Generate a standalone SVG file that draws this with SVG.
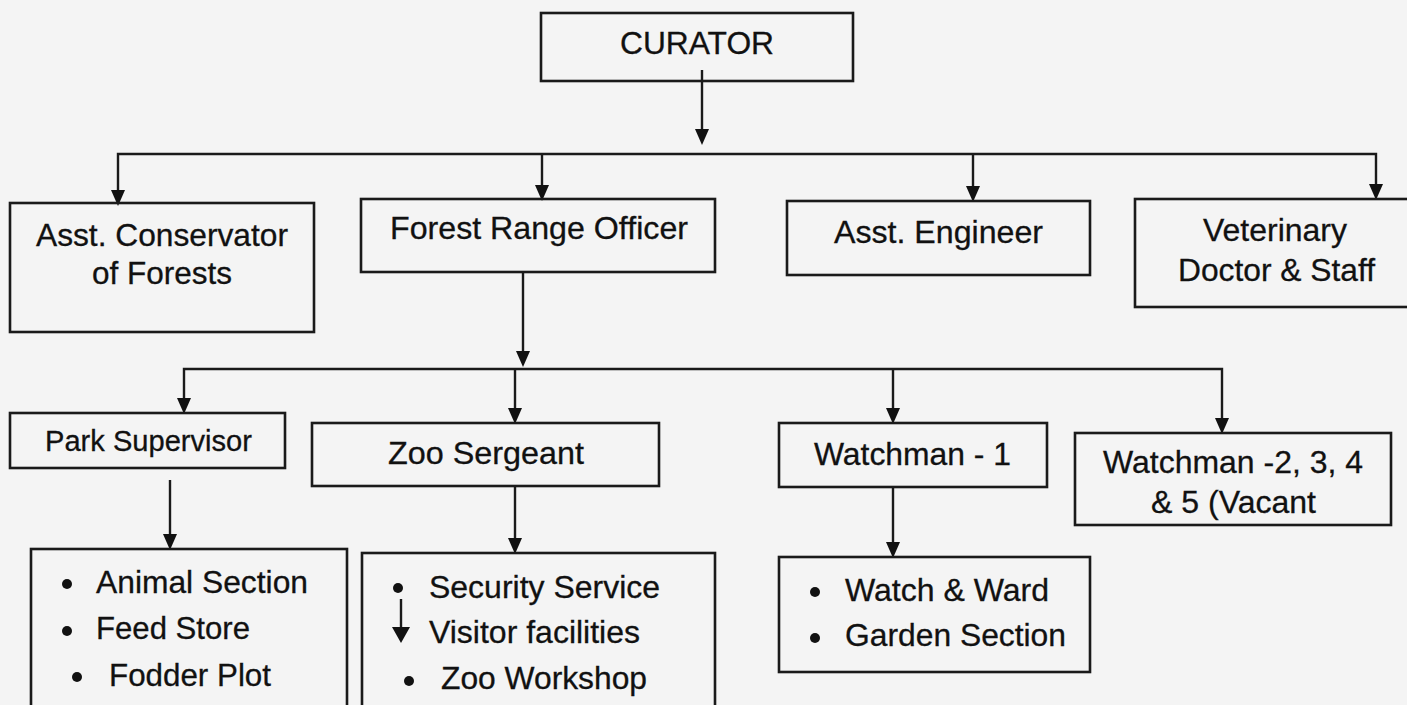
<svg xmlns="http://www.w3.org/2000/svg" width="1407" height="705" viewBox="0 0 1407 705">
<style>
.box{fill:none;stroke:#1a1a1a;stroke-width:2.6}
.ln{fill:none;stroke:#1a1a1a;stroke-width:2.4}
.ah{fill:#111}
text{font-family:"Liberation Sans",Arial,sans-serif;font-size:32px;fill:#111;stroke:#111;stroke-width:0.3}
.sm{font-size:29px}
.dot{fill:#111}
</style>
<rect x="0" y="0" width="1407" height="705" fill="#f4f4f4"/>
<g id="connectors">
<path class="ln" d="M702,70V130"/><polygon class="ah" points="702,145 695,129 709,129"/>
<path class="ln" d="M118,190V154H1376V184"/>
<path class="ln" d="M542,154V185"/><path class="ln" d="M973,154V186"/>
<polygon class="ah" points="118,206 111,190 125,190"/>
<polygon class="ah" points="542,201 535,185 549,185"/>
<polygon class="ah" points="973,202 966,186 980,186"/>
<polygon class="ah" points="1376,200 1369,184 1383,184"/>
<path class="ln" d="M523,272V351"/><polygon class="ah" points="523,367 516,351 530,351"/>
<path class="ln" d="M184,398V369H1222V418"/>
<path class="ln" d="M515,369V408"/><path class="ln" d="M893,369V408"/>
<polygon class="ah" points="184,414 177,398 191,398"/>
<polygon class="ah" points="515,424 508,408 522,408"/>
<polygon class="ah" points="893,424 886,408 900,408"/>
<polygon class="ah" points="1222,434 1215,418 1229,418"/>
<path class="ln" d="M170,480V534"/><polygon class="ah" points="170,550 163,534 177,534"/>
<path class="ln" d="M515,486V538"/><polygon class="ah" points="515,554 508,538 522,538"/>
<path class="ln" d="M893,487V542"/><polygon class="ah" points="893,558 886,542 900,542"/>
<path class="ln" d="M401,599V628"/><polygon class="ah" points="401,643 392,627 410,627"/>
</g>
<g id="curator"><rect class="box" x="541" y="13" width="312" height="68"/><text x="620" y="54" textLength="154" lengthAdjust="spacingAndGlyphs">CURATOR</text></g>
<g id="asst-conservator"><rect class="box" x="10" y="203" width="304" height="129"/><text x="36" y="246" textLength="252" lengthAdjust="spacingAndGlyphs">Asst. Conservator</text><text x="92" y="284" textLength="140" lengthAdjust="spacingAndGlyphs">of Forests</text></g>
<g id="forest-range-officer"><rect class="box" x="361" y="199" width="354" height="73"/><text x="390" y="239" textLength="298" lengthAdjust="spacingAndGlyphs">Forest Range Officer</text></g>
<g id="asst-engineer"><rect class="box" x="787" y="201" width="303" height="74"/><text x="834" y="243" textLength="209" lengthAdjust="spacingAndGlyphs">Asst. Engineer</text></g>
<g id="veterinary"><rect class="box" x="1135" y="199" width="275" height="108"/><text x="1203" y="241" textLength="144" lengthAdjust="spacingAndGlyphs">Veterinary</text><text x="1178" y="281" textLength="197" lengthAdjust="spacingAndGlyphs">Doctor &amp; Staff</text></g>
<g id="park-supervisor"><rect class="box" x="10" y="413" width="275" height="55"/><text class="sm" x="45" y="451" textLength="207" lengthAdjust="spacingAndGlyphs">Park Supervisor</text></g>
<g id="zoo-sergeant"><rect class="box" x="312" y="423" width="347" height="63"/><text x="388" y="464" textLength="196" lengthAdjust="spacingAndGlyphs">Zoo Sergeant</text></g>
<g id="watchman-1"><rect class="box" x="779" y="423" width="268" height="64"/><text x="814" y="465" textLength="197" lengthAdjust="spacingAndGlyphs">Watchman - 1</text></g>
<g id="watchman-2-5"><rect class="box" x="1075" y="433" width="316" height="92"/><text x="1103" y="473" textLength="260" lengthAdjust="spacingAndGlyphs">Watchman -2, 3, 4</text><text x="1151" y="513" textLength="165" lengthAdjust="spacingAndGlyphs">&amp; 5 (Vacant</text></g>
<g id="park-sections"><rect class="box" x="31" y="549" width="316" height="161"/>
<circle class="dot" cx="67" cy="584" r="5"/><text x="96" y="593" textLength="212" lengthAdjust="spacingAndGlyphs">Animal Section</text>
<circle class="dot" cx="67" cy="631" r="5"/><text x="96" y="639" textLength="154" lengthAdjust="spacingAndGlyphs">Feed Store</text>
<circle class="dot" cx="77" cy="677" r="5"/><text x="109" y="686" textLength="162" lengthAdjust="spacingAndGlyphs">Fodder Plot</text></g>
<g id="zoo-sections"><rect class="box" x="362" y="553" width="353" height="157"/>
<circle class="dot" cx="398" cy="588" r="5"/><text x="429" y="598" textLength="231" lengthAdjust="spacingAndGlyphs">Security Service</text>
<text x="429" y="643" textLength="211" lengthAdjust="spacingAndGlyphs">Visitor facilities</text>
<circle class="dot" cx="409" cy="681" r="5"/><text x="441" y="689" textLength="206" lengthAdjust="spacingAndGlyphs">Zoo Workshop</text></g>
<g id="watch-sections"><rect class="box" x="779" y="557" width="311" height="115"/>
<circle class="dot" cx="815" cy="592" r="5"/><text x="845" y="601" textLength="204" lengthAdjust="spacingAndGlyphs">Watch &amp; Ward</text>
<circle class="dot" cx="815" cy="638" r="5"/><text x="845" y="646" textLength="221" lengthAdjust="spacingAndGlyphs">Garden Section</text></g>
</svg>
